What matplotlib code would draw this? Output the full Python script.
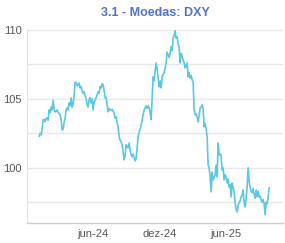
import matplotlib
matplotlib.use("Agg")
import matplotlib.pyplot as plt
import pandas as pd

# DXY values, roughly evenly spaced in time
start_date = "2024-01-05"
end_date = "2025-09-27"
dxy = [
    102.3, 102.5, 102.4, 102.8, 103.5, 103.5, 103.35, 103.6, 103.6, 103.45,
    104.2, 104.0, 104.4, 104.2, 104.9, 104.3, 104.05, 104.1, 104.2, 104.0,
    103.95, 103.85, 103.5, 102.75, 102.8, 103.3, 103.6, 104.2, 104.35, 104.2,
    104.7, 104.5, 105.07, 104.4, 104.6, 105.3, 106.2, 106.2, 105.95, 106.0,
    106.15, 105.8, 105.9, 105.6, 105.4, 105.5, 105.2, 105.0, 104.6, 104.4,
    104.95, 105.1, 104.7, 105.0, 104.2, 104.8, 104.9, 105.1, 105.3, 105.5,
    105.4, 105.9, 105.8, 106.1, 106.0, 105.6, 105.07, 105.1, 104.6, 104.06,
    104.3, 104.2, 104.2, 104.25, 104.1, 103.98, 103.6, 103.7, 103.26, 102.97,
    102.25, 102.0, 101.9, 101.67, 101.16, 100.58, 100.9, 101.67, 101.5, 101.45,
    101.8, 101.3, 100.94, 100.8, 101.0, 100.72, 100.5, 100.7, 101.5, 102.25,
    102.6, 102.8, 103.1, 103.48, 103.9, 104.2, 104.35, 104.5, 104.3, 104.5,
    104.35, 104.0, 103.5, 105.07, 106.6, 106.3, 107.0, 107.6, 107.2, 106.5,
    105.87, 106.3, 105.8, 106.6, 106.8, 106.9, 107.2, 107.6, 108.4, 108.2,
    108.0, 108.3, 108.77, 108.5, 109.4, 109.6, 109.93, 109.4, 109.5, 109.0,
    108.7, 107.6, 108.3, 108.1, 107.8, 107.6, 107.25, 107.4, 107.6, 106.6,
    106.9, 106.5, 106.7, 106.4, 106.2, 104.2, 103.84, 103.9, 103.7, 103.33,
    103.8, 104.35, 104.4, 104.57, 104.3, 102.97, 103.2, 102.8, 102.25, 100.22,
    100.0, 99.35, 98.26, 99.7, 99.13, 99.3, 99.5, 100.2, 99.35, 101.8,
    100.94, 101.0, 100.9, 99.86, 100.0, 99.13, 99.5, 99.3, 98.9, 99.2,
    98.62, 98.8, 97.9, 98.9, 98.6, 98.2, 97.46, 97.0, 96.8, 97.3,
    97.5, 97.6, 97.9, 98.04, 98.4, 97.5, 97.17, 97.8, 98.6, 100.0,
    99.0, 98.6, 98.3, 98.2, 98.5, 98.1, 97.8, 98.4, 97.9, 98.3,
    97.9, 97.95, 97.7, 97.5, 97.7, 97.4, 96.6, 97.5, 97.4, 97.9,
    98.55,
]
dates = pd.date_range(start_date, end_date, periods=len(dxy))

tick_dates = pd.to_datetime(["2024-06-01", "2024-12-01", "2025-06-01"])
tick_labels = ["jun-24", "dez-24", "jun-25"]
y_ticks = [100, 105, 110]
grid_levels = [97.5, 100, 102.5, 105, 107.5, 110]

plt.rcParams["font.family"] = ["Liberation Sans", "DejaVu Sans"]

fig = plt.figure(figsize=(2.85, 2.43), dpi=100)
ax = fig.add_axes([0.095, 0.082, 0.898, 0.795])

for g in grid_levels:
    ax.axhline(g, color="#e8e8e8", linewidth=1.0, zorder=0)

ax.plot(dates, dxy, color="#5bc8e2", linewidth=1.2, zorder=2)

ax.set_xlim(pd.Timestamp("2023-12-03"), pd.Timestamp("2025-11-04"))
ax.set_ylim(96.0, 110.0)
ax.set_xticks(tick_dates)
ax.set_xticklabels(tick_labels)
ax.set_yticks(y_ticks)
ax.tick_params(axis="both", length=0, labelsize=8, colors="#555555", pad=4)

for side in ["top", "right"]:
    ax.spines[side].set_visible(False)
ax.spines["left"].set_color("#e0e0e0")
ax.spines["bottom"].set_color("#cccccc")
ax.spines["bottom"].set_linewidth(1.0)

ax.set_title("3.1 - Moedas: DXY", fontsize=9, fontweight="bold",
             color="#4f72d6", pad=10)

fig.savefig("out.png", dpi=100)
